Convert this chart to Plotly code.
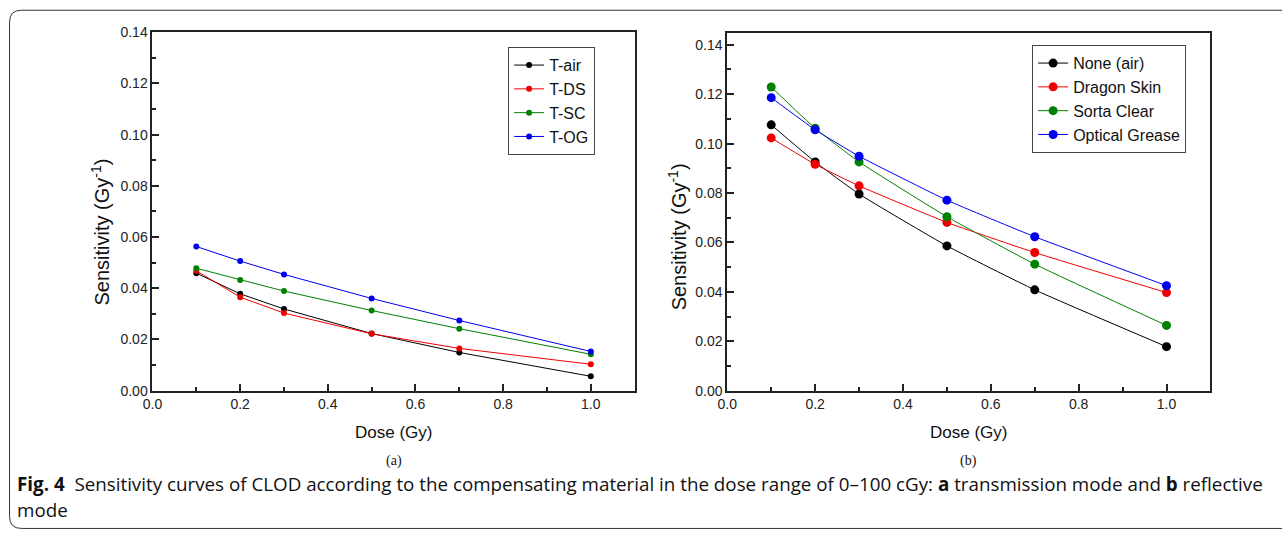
import plotly.graph_objects as go

dose = [0.1, 0.2, 0.3, 0.5, 0.7, 1.0]

# (a) transmission mode
t_air = [0.0459, 0.0378, 0.0319, 0.0223, 0.0149, 0.0056]
t_ds = [0.0468, 0.0365, 0.0303, 0.0222, 0.0165, 0.0103]
t_sc = [0.0478, 0.0432, 0.0389, 0.0313, 0.0242, 0.0142]
t_og = [0.0563, 0.0506, 0.0454, 0.0360, 0.0274, 0.0153]

# (b) reflective mode
r_air = [0.1076, 0.0926, 0.0796, 0.0586, 0.0408, 0.0178]
r_ds = [0.1023, 0.0916, 0.0829, 0.0681, 0.0559, 0.0397]
r_sc = [0.1229, 0.1062, 0.0926, 0.0704, 0.0512, 0.0264]
r_og = [0.1186, 0.1056, 0.0949, 0.0771, 0.0623, 0.0425]

names_a = ["T-air", "T-DS", "T-SC", "T-OG"]
names_b = ["None (air)", "Dragon Skin", "Sorta Clear", "Optical Grease"]
colors = ["#000000", "#ee0000", "#008000", "#0000ee"]

# page offset (body margin) and the observed scaling of the captured page
OFF = 8
SX, SY = 0.996, 0.972
W, H = 1284, 543
FONT = "Liberation Sans, Arial, sans-serif"

fig = go.Figure()

for name, ys, c in zip(names_a, [t_air, t_ds, t_sc, t_og], colors):
    fig.add_trace(go.Scatter(x=dose, y=ys, name=name, mode="lines+markers",
                             line=dict(color=c, width=1),
                             marker=dict(color=c, size=6),
                             xaxis="x", yaxis="y", legend="legend"))

for name, ys, c in zip(names_b, [r_air, r_ds, r_sc, r_og], colors):
    fig.add_trace(go.Scatter(x=dose, y=ys, name=name, mode="lines+markers",
                             line=dict(color=c, width=1, shape="spline", smoothing=0.4),
                             marker=dict(color=c, size=9),
                             xaxis="x2", yaxis="y2", legend="legend2"))

def px(x):
    return (x / SX - OFF) / W

def py(y):
    return 1 - (y / SY - OFF) / H

axis_common = dict(
    showline=True, linecolor="#222", linewidth=2, mirror=True,
    ticks="inside", ticklen=7, tickwidth=2, tickcolor="#222",
    showgrid=False, zeroline=False,
    tickfont=dict(family=FONT, size=14, color="#222"),
)
minor = dict(ticks="inside", ticklen=4, tickcolor="#222", tickwidth=1.5)

fig.update_layout(
    width=W, height=H,
    margin=dict(l=0, r=0, t=0, b=0),
    paper_bgcolor="white", plot_bgcolor="white",
    xaxis=dict(domain=[px(151), px(635)], range=[0, 1.1], dtick=0.2, tick0=0,
               tickformat=".1f", anchor="y", minor=dict(dtick=0.1, **minor),
               **axis_common),
    yaxis=dict(domain=[py(391), py(32)], range=[0, 0.14], dtick=0.02, tick0=0,
               tickformat=".2f", anchor="x", minor=dict(dtick=0.01, **minor),
               **axis_common),
    xaxis2=dict(domain=[px(728), px(1213)], range=[0, 1.1], dtick=0.2, tick0=0,
                tickformat=".1f", anchor="y2", minor=dict(dtick=0.1, **minor),
                **axis_common),
    yaxis2=dict(domain=[py(391), py(33)], range=[0, 0.1447], dtick=0.02, tick0=0,
                tickformat=".2f", anchor="x2", minor=dict(dtick=0.01, **minor),
                **axis_common),
    legend=dict(x=px(508), y=py(47), xanchor="left", yanchor="top",
                bordercolor="#444", borderwidth=1, bgcolor="white",
                font=dict(family=FONT, size=16, color="#111"),
                itemwidth=30, tracegroupgap=0),
    legend2=dict(x=px(1034), y=py(45), xanchor="left", yanchor="top",
                 bordercolor="#444", borderwidth=1, bgcolor="white",
                 font=dict(family=FONT, size=16, color="#111"),
                 itemwidth=30, tracegroupgap=0),
    showlegend=True,
)

def label(x, y, text, size, family=FONT, angle=0, xanchor="center"):
    return dict(x=px(x), y=py(y), text=text, showarrow=False, textangle=angle,
                xanchor=xanchor, yanchor="middle", xref="paper", yref="paper",
                font=dict(family=family, size=size, color="#111"))

SERIF = "Liberation Serif, Times New Roman, serif"
CAP = "Open Sans, Noto Sans, sans-serif"
ann = [
    label(393, 433, "Dose (Gy)", 17),
    label(970, 433, "Dose (Gy)", 17),
    label(99, 232, "Sensitivity (Gy<sup>-1</sup>)", 20, angle=-90),
    label(678, 237, "Sensitivity (Gy<sup>-1</sup>)", 20, angle=-90),
    label(393, 461, "(a)", 14, family=SERIF),
    label(970, 461, "(b)", 14, family=SERIF),
    label(13, 484, "<b>Fig. 4</b>  Sensitivity curves of CLOD according to the compensating material "
                   "in the dose range of 0\u2013100 cGy: <b>a</b> transmission mode and <b>b</b> reflective",
          18.8, family=CAP, xanchor="left"),
    label(13, 511, "mode", 18.8, family=CAP, xanchor="left"),
]
fig.update_layout(annotations=ann)

# outer rounded frame
r = 12
x0, y0, x1, y1 = 7.5, 10, 1300, 529
path = (f"M {px(x0+r)},{py(y0)} L {px(x1)},{py(y0)} "
        f"M {px(x0)},{py(y1-r)} L {px(x0)},{py(y0+r)} Q {px(x0)},{py(y0)} {px(x0+r)},{py(y0)} "
        f"M {px(x0)},{py(y1-r)} Q {px(x0)},{py(y1)} {px(x0+r)},{py(y1)} L {px(x1)},{py(y1)}")
fig.add_shape(type="path", path=path, xref="paper", yref="paper",
              line=dict(color="#333", width=1))

fig.write_html("out.html")
